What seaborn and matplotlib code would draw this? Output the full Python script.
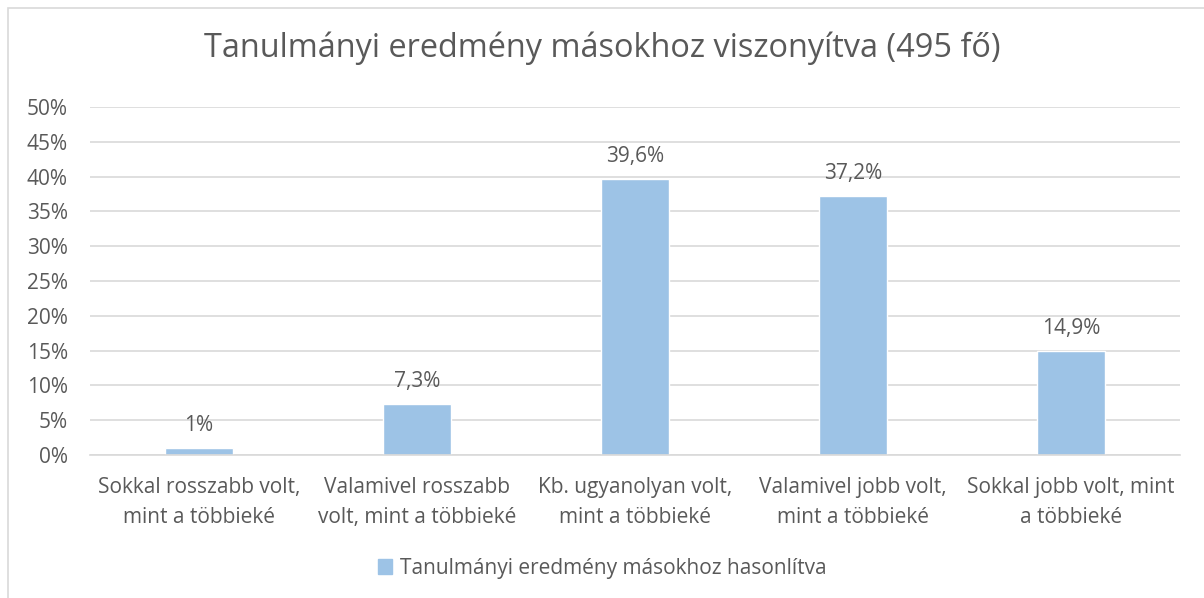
import matplotlib
matplotlib.use('Agg')
import matplotlib.pyplot as plt
import matplotlib.patches as mpatches
import seaborn as sns
import pandas as pd
from matplotlib.ticker import MultipleLocator, FuncFormatter

categories = ['Sokkal rosszabb volt,\nmint a többieké',
              'Valamivel rosszabb\nvolt, mint a többieké',
              'Kb. ugyanolyan volt,\nmint a többieké',
              'Valamivel jobb volt,\nmint a többieké',
              'Sokkal jobb volt, mint\na többieké']
values = [1.0, 7.3, 39.6, 37.2, 14.9]
value_labels = ['1%', '7,3%', '39,6%', '37,2%', '14,9%']
series_name = 'Tanulmányi eredmény másokhoz hasonlítva'
title = 'Tanulmányi eredmény másokhoz viszonyítva (495 fő)'

sns.set_style('white')
plt.rcParams['font.family'] = ['Open Sans', 'DejaVu Sans']
text_col = '#595959'
bar_col = '#9DC3E6'
fs = 15

df = pd.DataFrame({'cat': categories, 'val': values})

fig = plt.figure(figsize=(12.04, 5.98), dpi=100)
ax = fig.add_axes([0.0748, 0.2391, 0.9052, 0.582])

sns.barplot(data=df, x='cat', y='val', color=bar_col, width=0.31, ax=ax, saturation=1)

ax.set_ylim(0, 50)
ax.set_xlim(-0.5, 4.5)
ax.yaxis.set_major_locator(MultipleLocator(5))
ax.yaxis.set_major_formatter(FuncFormatter(lambda v, p: f'{int(v)}%'))
ax.grid(axis='y', color='#d9d9d9', linewidth=1.2)
ax.set_axisbelow(True)
for s in ['top', 'right', 'left']:
    ax.spines[s].set_visible(False)
ax.spines['bottom'].set_color('#d9d9d9')
ax.spines['bottom'].set_linewidth(1.2)
ax.tick_params(axis='both', length=0, labelsize=fs, colors=text_col)
ax.tick_params(axis='x', pad=16)
ax.tick_params(axis='y', pad=16)
for t in ax.get_xticklabels():
    t.set_linespacing(1.55)
ax.set_xlabel('')
ax.set_ylabel('')

for i, (v, lab) in enumerate(zip(values, value_labels)):
    ax.annotate(lab, (i, v), xytext=(0, 9), textcoords='offset points',
                ha='center', va='bottom', fontsize=fs, color=text_col)

fig.text(0.5, 0.92, title, ha='center', va='center', fontsize=23.4, color=text_col)

handle = mpatches.Patch(color=bar_col, label=series_name)
fig.legend(handles=[handle], loc='center', bbox_to_anchor=(0.5, 0.05), frameon=False,
           fontsize=fs, labelcolor=text_col, handlelength=0.7, handleheight=0.7,
           handletextpad=0.35)

border = mpatches.Rectangle((8 / 1204, -0.01), 1.1, 1 - 8 / 598 + 0.01, transform=fig.transFigure,
                            fill=False, edgecolor='#d9d9d9', linewidth=1.2)
fig.patches.append(border)

fig.savefig('out.png', dpi=100, facecolor='white')
